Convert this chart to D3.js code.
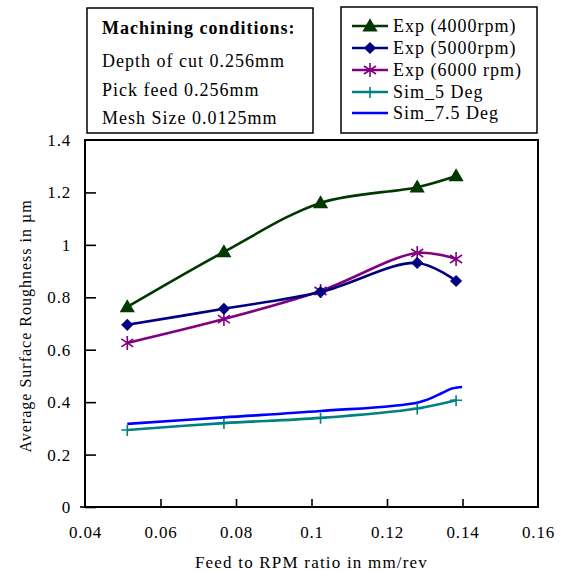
<!DOCTYPE html>
<html>
<head>
<meta charset="utf-8">
<script src="https://cdn.jsdelivr.net/npm/d3@7"></script>
<style>
  body { margin: 0; background: #fff; }
  svg { font-family: "Liberation Serif", "Times New Roman", serif; }
  .tick text { font-size: 17px; letter-spacing: 0.8px; fill: #000; }
  .tick line { stroke: #000; stroke-width: 1.6; }
  .axis-label { font-size: 17px; letter-spacing: 1.2px; fill: #000; }
  .box-text { font-size: 18px; letter-spacing: 1px; fill: #000; }
</style>
</head>
<body>
<svg width="563" height="571"></svg>
<script>
// x values (feed to rpm ratio) shared by the experiments and Sim_5
const feedRatio = [0.0512, 0.0768, 0.1024, 0.128, 0.1383];
const exp4000 = [0.763, 0.973, 1.16, 1.22, 1.263];
const exp5000 = [0.695, 0.756, 0.82, 0.931, 0.862];
const exp6000 = [0.626, 0.717, 0.824, 0.969, 0.946];
const sim5 = [0.294, 0.32, 0.34, 0.376, 0.407];
// Sim_7.5 has no markers and a few extra points at the end
const sim75Ratio = [0.0512, 0.0768, 0.1024, 0.1285, 0.1346, 0.1372, 0.1399];
const sim75 = [0.317, 0.342, 0.366, 0.40, 0.435, 0.452, 0.458];

const xTicks = [0.04, 0.06, 0.08, 0.1, 0.12, 0.14, 0.16];
const yTicks = [0, 0.2, 0.4, 0.6, 0.8, 1, 1.2, 1.4];

const infoLines = ['Depth of cut 0.256mm', 'Pick feed 0.256mm', 'Mesh Size 0.0125mm'];

(function (d3) {
  'use strict';
  const svg = d3.select('svg');
  const width = +svg.attr('width');
  const height = +svg.attr('height');
  const serif = '"Liberation Serif", "Times New Roman", serif';

  const margin = { top: 140, right: 25, bottom: 64, left: 85 };
  const innerWidth = width - margin.left - margin.right;
  const innerHeight = height - margin.top - margin.bottom;

  const zip = (xs, ys) => xs.map((x, i) => ({ x: x, y: ys[i] }));

  const series = [
    { name: 'Exp (4000rpm)', color: '#003800', marker: 'triangle', data: zip(feedRatio, exp4000) },
    { name: 'Exp (5000rpm)', color: '#000080', marker: 'diamond', data: zip(feedRatio, exp5000) },
    { name: 'Exp (6000 rpm)', color: '#800080', marker: 'star', data: zip(feedRatio, exp6000) },
    { name: 'Sim_5 Deg', color: '#008080', marker: 'plus', data: zip(feedRatio, sim5) },
    { name: 'Sim_7.5 Deg', color: '#0000ff', marker: null, data: zip(sim75Ratio, sim75) }
  ];

  const xScale = d3.scaleLinear().domain([0.04, 0.16]).range([0, innerWidth]);
  const yScale = d3.scaleLinear().domain([0, 1.4]).range([innerHeight, 0]);

  const g = svg.append('g')
    .attr('transform', `translate(${margin.left},${margin.top})`);

  const xAxis = d3.axisBottom(xScale)
    .tickValues(xTicks)
    .tickFormat(d => d3.format('')(+d.toFixed(2)))
    .tickSizeInner(-8)
    .tickSizeOuter(0)
    .tickPadding(19);

  const yAxis = d3.axisLeft(yScale)
    .tickValues(yTicks)
    .tickFormat(d => d3.format('')(+d.toFixed(1)))
    .tickSizeInner(-11)
    .tickSizeOuter(0)
    .tickPadding(14);

  const xAxisG = g.append('g')
    .attr('transform', `translate(0,${innerHeight})`)
    .call(xAxis)
    .attr('font-family', serif);
  xAxisG.select('.domain').remove();
  xAxisG.selectAll('.tick').filter(d => d === 0.04 || d === 0.16).select('line').remove();

  const yAxisG = g.append('g').call(yAxis)
    .attr('font-family', serif);
  yAxisG.select('.domain').remove();
  yAxisG.selectAll('.tick').filter(d => d === 1.4).select('line').remove();

  // small cross at the origin
  g.append('line')
    .attr('x1', -5).attr('x2', 10)
    .attr('y1', innerHeight).attr('y2', innerHeight)
    .attr('stroke', '#000').attr('stroke-width', 1.6);

  // plot frame
  g.append('rect')
    .attr('width', innerWidth)
    .attr('height', innerHeight)
    .attr('fill', 'none')
    .attr('stroke', '#000')
    .attr('stroke-width', 2);

  const line = d3.line()
    .x(d => xScale(d.x))
    .y(d => yScale(d.y))
    .curve(d3.curveCatmullRom.alpha(0.5));

  const drawMarker = (sel, s, x, y) => {
    if (s.marker === 'triangle') {
      sel.append('path')
        .attr('d', d3.symbol(d3.symbolTriangle, 100)())
        .attr('transform', `translate(${x},${y + 1})`)
        .attr('fill', s.color);
    } else if (s.marker === 'diamond') {
      sel.append('path')
        .attr('d', d3.symbol(d3.symbolSquare, 74)())
        .attr('transform', `translate(${x},${y}) rotate(45)`)
        .attr('fill', s.color);
    } else if (s.marker === 'star') {
      sel.append('path')
        .attr('d', 'M0,-7L0,7M-6,-4L6,4M-6,4L6,-4')
        .attr('transform', `translate(${x},${y})`)
        .attr('stroke', s.color)
        .attr('stroke-width', 1.6)
        .attr('fill', 'none');
    } else if (s.marker === 'plus') {
      sel.append('path')
        .attr('d', 'M-6,0L6,0M0,-5L0,6')
        .attr('transform', `translate(${x},${y})`)
        .attr('stroke', s.color)
        .attr('stroke-width', 1.6)
        .attr('fill', 'none');
    }
  };

  // draw lower series first so the experiments sit on top
  series.slice().reverse().forEach(s => {
    const sg = g.append('g');
    sg.append('path')
      .datum(s.data)
      .attr('d', line)
      .attr('fill', 'none')
      .attr('stroke', s.color)
      .attr('stroke-width', 2.6)
      .attr('stroke-linejoin', 'round');
    s.data.forEach(d => drawMarker(sg, s, xScale(d.x), yScale(d.y)));
  });

  // axis titles
  svg.append('text')
    .attr('class', 'axis-label')
    .attr('x', margin.left + innerWidth / 2)
    .attr('y', 568)
    .attr('text-anchor', 'middle')
    .text('Feed to RPM ratio in mm/rev');

  svg.append('text')
    .attr('class', 'axis-label')
    .attr('transform', 'translate(31,326) rotate(-90)')
    .attr('text-anchor', 'middle')
    .style('font-size', '16px')
    .style('letter-spacing', '1px')
    .text('Average Surface Roughness in µm');

  // machining conditions box
  const info = svg.append('g');
  info.append('rect')
    .attr('x', 87).attr('y', 8)
    .attr('width', 226).attr('height', 125)
    .attr('fill', '#fff')
    .attr('stroke', '#000')
    .attr('stroke-width', 1.5);
  info.append('text')
    .attr('class', 'box-text')
    .attr('x', 102).attr('y', 34)
    .attr('font-weight', 'bold')
    .text('Machining conditions:');
  infoLines.forEach((t, i) => {
    info.append('text')
      .attr('class', 'box-text')
      .attr('x', 102).attr('y', 67 + i * 28.5)
      .text(t);
  });

  // legend
  const legend = svg.append('g');
  legend.append('rect')
    .attr('x', 341).attr('y', 7)
    .attr('width', 196).attr('height', 126)
    .attr('fill', '#fff')
    .attr('stroke', '#000')
    .attr('stroke-width', 1.5);
  const rowY = [26, 48, 70, 92, 113];
  series.forEach((s, i) => {
    const y = rowY[i];
    legend.append('line')
      .attr('x1', 352).attr('x2', 388)
      .attr('y1', y).attr('y2', y)
      .attr('stroke', s.color)
      .attr('stroke-width', 2.6);
    drawMarker(legend, s, 370, y);
    legend.append('text')
      .attr('class', 'box-text')
      .attr('x', 393).attr('y', y + 6)
      .text(s.name);
  });
}(d3));
</script>
</body>
</html>
